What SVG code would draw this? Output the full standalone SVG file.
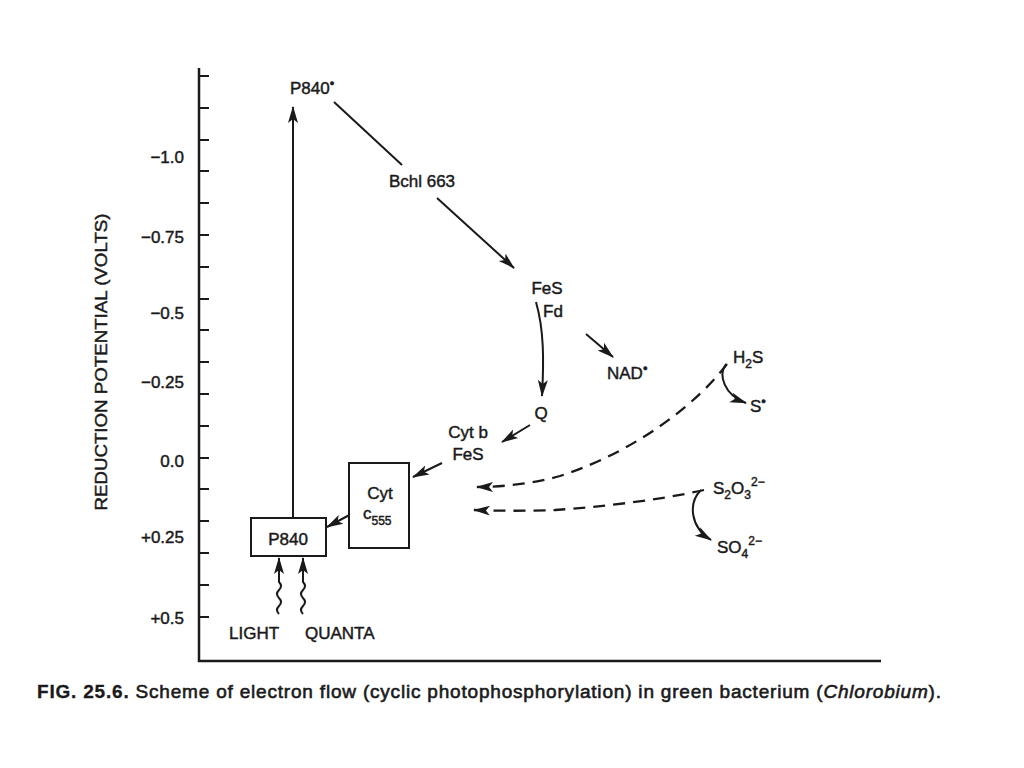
<svg xmlns="http://www.w3.org/2000/svg" width="1024" height="768" viewBox="0 0 1024 768">
<defs>
<marker id="ah" markerUnits="userSpaceOnUse" markerWidth="18" markerHeight="12" refX="16" refY="6" orient="auto">
<path d="M0,1 L17,6 L0,11 L4,6 z" fill="#1a1a1a"/>
</marker>
<style>
text{font-family:"Liberation Sans",Arial,sans-serif;font-size:17px;fill:#1a1a1a;stroke:#1a1a1a;stroke-width:0.45}
.ax{stroke:#1a1a1a;stroke-width:2.5;fill:none}
.tk{stroke:#1a1a1a;stroke-width:2.2;fill:none}
.ln{stroke:#1a1a1a;stroke-width:2;fill:none}
.ar{stroke:#1a1a1a;stroke-width:2;fill:none;marker-end:url(#ah)}
.da{stroke:#1a1a1a;stroke-width:2.3;fill:none;stroke-dasharray:12 8;marker-end:url(#ah)}
.box{stroke:#1a1a1a;stroke-width:2;fill:#fff}
.r{text-anchor:end}
.m{text-anchor:middle}
.sub{font-size:12px}
.dot{font-size:13px}
</style>
</defs>
<rect width="1024" height="768" fill="#fff"/>

<g id="axes">
<path class="ax" d="M199,68 V661 H881"/>
<path class="tk" d="M199,76h10M199,108h10M199,140h10M199,171h10M199,203h10M199,235h10M199,267h10M199,299h10M199,330h10M199,362h10M199,394h10M199,426h10M199,458h10M199,489h10M199,521h10M199,553h10M199,585h10M199,617h10"/>
<text class="r" x="184" y="163">−1.0</text>
<text class="r" x="184" y="243">−0.75</text>
<text class="r" x="184" y="319">−0.5</text>
<text class="r" x="184" y="388">−0.25</text>
<text class="r" x="184" y="467">0.0</text>
<text class="r" x="184" y="543">+0.25</text>
<text class="r" x="184" y="624">+0.5</text>
<text class="m" transform="translate(107,362) rotate(-90)" style="font-size:16px" textLength="297" lengthAdjust="spacingAndGlyphs">REDUCTION POTENTIAL (VOLTS)</text>
</g>

<g id="connectors">
<path class="ar" d="M293,518 V107"/>
<path class="ln" d="M334,102 L402,165"/>
<path class="ar" d="M437,198 L514,268"/>
<path class="ar" d="M536,302 C544,330 544,360 542,396"/>
<path class="ar" d="M586,334 L613,357"/>
<path class="ar" d="M530,425 L502,442"/>
<path class="ar" d="M442,463 L413,477"/>
<path class="ar" d="M355,512 L327,527"/>
<path class="ar" d="M279,614 q-4,-4 0,-8 q4,-4 0,-8 q-4,-4 0,-8 q4,-4 0,-8 L279,558"/>
<path class="ar" d="M303,614 q-4,-4 0,-8 q4,-4 0,-8 q-4,-4 0,-8 q4,-4 0,-8 L303,558"/>
<path class="da" d="M727,364 C700,400 640,450 560,476 C535,483 505,487 477,487"/>
<path class="ar" d="M726,364 C718,375 724,395 746,403"/>
<path class="da" d="M704,490 C660,500 600,507 555,510 C530,511 500,511 474,510"/>
<path class="ar" d="M701,490 C688,503 690,527 711,540"/>
</g>

<g id="P840star"><text x="290" y="94">P840<tspan class="dot" dy="-6">•</tspan></text></g>
<g id="Bchl663"><text class="m" x="422" y="187">Bchl 663</text></g>
<g id="FeSFd"><text class="m" x="547" y="294">FeS</text><text x="543" y="317">Fd</text></g>
<g id="NAD"><text x="607" y="379">NAD<tspan class="dot" dy="-6">•</tspan></text></g>
<g id="Q"><text class="m" x="541" y="419">Q</text></g>
<g id="CytbFeS"><text class="m" x="468" y="438">Cyt b</text><text class="m" x="468" y="460">FeS</text></g>
<g id="Cytc555">
<rect class="box" x="349" y="463" width="60" height="85"/>
<text class="m" x="380" y="499">Cyt</text>
<text x="363" y="519">c<tspan class="sub" dy="6">555</tspan></text>
</g>
<g id="P840">
<rect class="box" x="251" y="518" width="75" height="38"/>
<text class="m" x="288" y="545">P840</text>
</g>
<g id="light"><text x="229" y="639">LIGHT</text><text x="305" y="639">QUANTA</text></g>
<g id="H2S"><text x="733" y="363">H<tspan class="sub" dy="5">2</tspan><tspan dy="-5">S</tspan></text></g>
<g id="S0"><text x="750" y="412">S<tspan class="dot" dy="-6">•</tspan></text></g>
<g id="S2O3"><text x="713" y="494">S<tspan class="sub" dy="5">2</tspan><tspan dy="-5">O</tspan><tspan class="sub" dy="5">3</tspan><tspan class="sub" dy="-13">2−</tspan></text></g>
<g id="SO4"><text x="717" y="553">SO<tspan class="sub" dy="5">4</tspan><tspan class="sub" dy="-13">2−</tspan></text></g>

<g id="caption">
<text x="37" y="698" style="font-size:19px;stroke-width:0.6" textLength="904" lengthAdjust="spacing"><tspan style="font-weight:bold;stroke-width:0.3">FIG. 25.6.</tspan> Scheme of electron flow (cyclic photophosphorylation) in green bacterium (<tspan style="font-style:italic">Chlorobium</tspan>).</text>
</g>
</svg>
